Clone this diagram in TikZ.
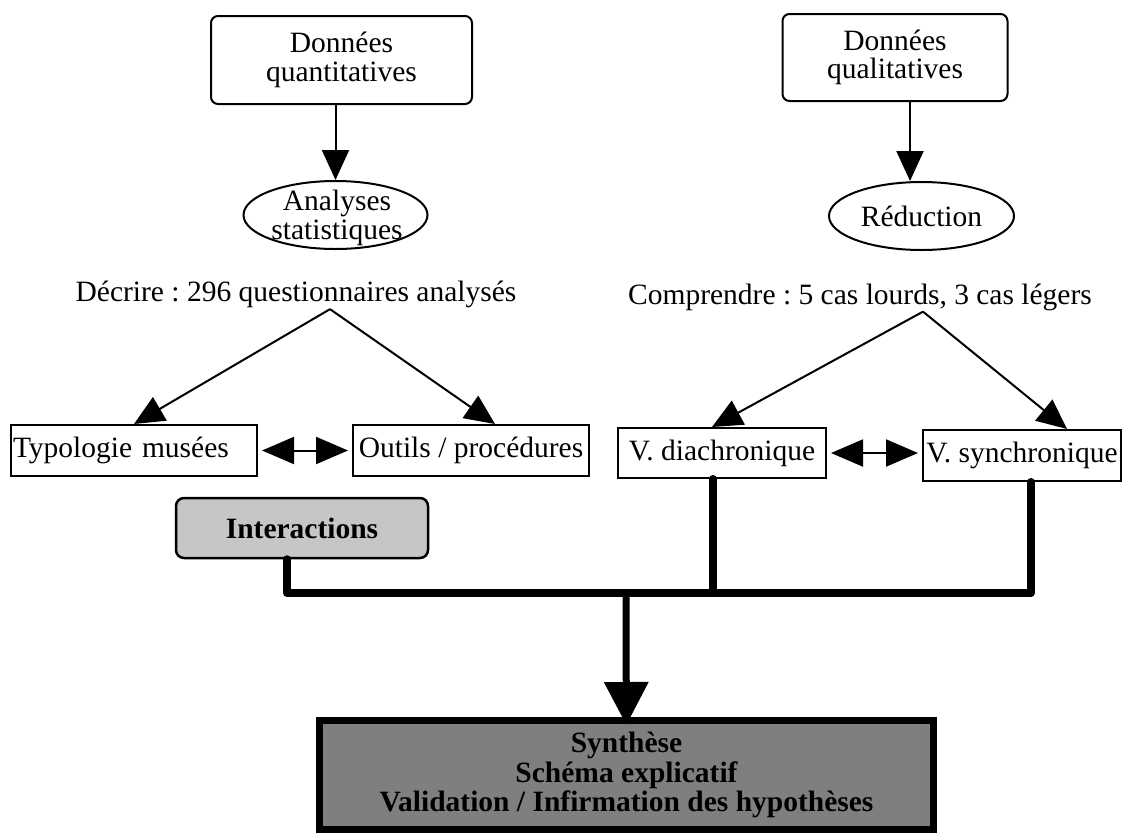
\documentclass[tikz,border=0pt]{standalone}
\usepackage{fontspec}
\setmainfont{Liberation Serif}
\usetikzlibrary{arrows.meta,shapes.geometric}
\definecolor{lightpat}{HTML}{C6C6C6}
\definecolor{darkpat}{HTML}{7F7F7F}
\begin{document}
\frenchspacing
\begin{tikzpicture}[x=1pt,y=-1pt,
        every node/.style={font=\fontsize{29.5}{28.5}\selectfont},
        databox/.style={draw,line width=2pt,rounded corners=7pt,align=center},
        oval/.style={draw,ellipse,line width=2pt,inner sep=0pt},
        plainbox/.style={draw,line width=2pt,inner sep=2pt},
        txt/.style={inner sep=1pt,align=center},
        arr/.style={line width=2pt,-{Triangle[length=30pt,width=27pt]}},
        darr/.style={line width=2pt,{Triangle[length=32pt,width=27pt]}-{Triangle[length=32pt,width=27pt]},
            shorten <=4pt,shorten >=4pt},
        bus/.style={line width=8pt,line cap=round,line join=round},
        bigarr/.style={line width=7pt,-{Triangle[length=43pt,width=43pt]},shorten >=-8pt}]
        \useasboundingbox (0,0) rectangle (1126,833);
        \node[databox,minimum width=261pt,minimum height=88pt] (qt) at (341.5,60) {Données\\quantitatives};
        \node[databox,minimum width=225pt,minimum height=87pt] (ql) at (895,57.5) {Données\\qualitatives};
        \node[oval,minimum width=184pt,minimum height=68pt] (as) at (335.5,215) {};
        \node[txt] (astxt) at (337,218) {Analyses\\statistiques};
        \node[oval,minimum width=185pt,minimum height=68pt] (red) at (921.5,216) {Réduction};
        \node[txt] (decr) at (296,294.5) {Décrire : 296 questionnaires analysés};
        \node[txt] (comp) at (860,297) {Comprendre : 5 cas lourds, 3 cas légers};
        \node[plainbox,minimum height=51pt,text width=242pt,align=left] (typ) at (134,450.5) {Typologie musées};
        \node[plainbox,minimum width=236pt,minimum height=51pt] (out) at (471,450.5) {Outils / procédures};
        \node[plainbox,minimum width=208pt,minimum height=50pt] (dia) at (722,453) {V. diachronique};
        \node[plainbox,minimum width=198pt,minimum height=51pt] (syn) at (1022,455.5) {V. synchronique};
        \node[draw,line width=2.5pt,rounded corners=8pt,fill=lightpat,minimum width=252pt,minimum height=60pt,
            font=\fontsize{29.5}{28.5}\selectfont\bfseries] (inter) at (302,528) {Interactions};
        \node[draw,line width=7pt,fill=darkpat,minimum width=614pt,minimum height=109pt,align=center,
            font=\fontsize{29.5}{29.5}\selectfont\bfseries] (synth) at (626.5,775)
            {Synthèse\\Schéma explicatif\\Validation / Infirmation des hypothèses};
        \coordinate (dfork) at ([xshift=34pt]decr.south);
        \coordinate (cfork) at ([xshift=63pt]comp.south);
        \coordinate (hub) at (626,593);
        \draw[arr] (as.north |- qt.south) -- (as.north);
        \draw[arr] ([xshift=15pt]ql.south) -- ([xshift=15pt]ql.south |- red.north);
        \draw[arr] (dfork) -- (typ.north);
        \draw[arr] (dfork) -- ([xshift=24pt]out.north);
        \draw[arr] (cfork) -- ([xshift=-10pt]dia.north);
        \draw[arr] (cfork) -- ([xshift=45pt]syn.north);
        \draw[darr] (typ) -- (out);
        \draw[darr] (dia.east) -- (dia.east -| syn.west);
        \draw[bus] ([xshift=-15pt]inter.south) |- ([xshift=9pt]syn.south |- hub) -- ([xshift=9pt]syn.south);
        \draw[bus] ([xshift=-9pt]dia.south) -- ([xshift=-9pt]dia.south |- hub);
        \draw[bigarr] (hub) -- (synth);
    \end{tikzpicture}
\end{document}
